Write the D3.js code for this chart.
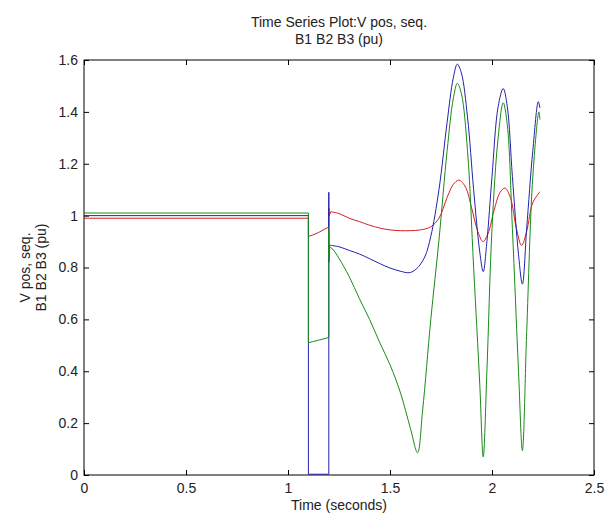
<!DOCTYPE html>
<html>
<head>
<meta charset="utf-8">
<script src="https://cdn.jsdelivr.net/npm/d3@7"></script>
<style>
  body { margin: 0; background: #fff; }
  svg text { font-family: "Liberation Sans", Arial, sans-serif; fill: #222; }
</style>
</head>
<body>
<svg id="chart" width="610" height="520"></svg>
<script>
// tick values / labels
const xTicks = [0, 0.5, 1, 1.5, 2, 2.5];
const xTickLabels = ["0", "0.5", "1", "1.5", "2", "2.5"];
const yTicks = [0, 0.2, 0.4, 0.6, 0.8, 1, 1.2, 1.4, 1.6];
const yTickLabels = ["0", "0.2", "0.4", "0.6", "0.8", "1", "1.2", "1.4", "1.6"];

// step part of each trace (pre-fault, fault, clearing) - straight segments
const redStep = [[0, 0.99], [1.1, 0.99], [1.1, 0.92], [1.12, 0.925], [1.15, 0.935], [1.18, 0.948], [1.2, 0.956], [1.2, 1.03], [1.202, 1.0], [1.21, 1.015]];
const blueStep = [[0, 1.0], [1.1, 1.0], [1.1, 0.87], [1.1, 0.003], [1.2, 0.003], [1.2, 1.09], [1.2, 0.82], [1.202, 0.886]];
const greenStep = [[0, 1.01], [1.1, 1.01], [1.1, 0.51], [1.12, 0.514], [1.15, 0.52], [1.2, 0.53], [1.2, 0.95], [1.2, 0.84], [1.202, 0.88]];

// post-fault swing - smooth
const redPost = [[1.21, 1.015], [1.25, 1.008], [1.3, 0.99], [1.35, 0.977], [1.4, 0.963], [1.45, 0.952], [1.5, 0.945], [1.55, 0.942], [1.6, 0.942],
  [1.65, 0.945], [1.7, 0.957], [1.74, 0.99], [1.78, 1.07], [1.81, 1.12], [1.838, 1.137], [1.87, 1.11], [1.9, 1.03], [1.93, 0.94], [1.956, 0.9],
  [1.98, 0.93], [2.01, 1.02], [2.04, 1.09], [2.064, 1.106], [2.09, 1.07], [2.12, 0.95], [2.145, 0.885], [2.17, 0.94], [2.2, 1.05], [2.235, 1.092]];
const bluePost = [[1.202, 0.886], [1.25, 0.88], [1.3, 0.866], [1.35, 0.852], [1.4, 0.834], [1.45, 0.815], [1.5, 0.798], [1.55, 0.786], [1.595, 0.78],
  [1.63, 0.795], [1.67, 0.84], [1.7, 0.92], [1.74, 1.1], [1.78, 1.36], [1.81, 1.53], [1.83, 1.584], [1.85, 1.55], [1.88, 1.38], [1.91, 1.1],
  [1.94, 0.86], [1.957, 0.784], [1.975, 0.9], [2.0, 1.15], [2.03, 1.42], [2.055, 1.49], [2.075, 1.42], [2.1, 1.15], [2.13, 0.85], [2.149, 0.736],
  [2.17, 0.95], [2.2, 1.25], [2.227, 1.439], [2.235, 1.415]];
const greenPost = [[1.202, 0.88], [1.22, 0.87], [1.25, 0.835], [1.3, 0.765], [1.35, 0.68], [1.4, 0.6], [1.45, 0.51], [1.5, 0.425], [1.55, 0.32],
  [1.6, 0.18], [1.635, 0.086], [1.66, 0.25], [1.7, 0.6], [1.74, 0.906], [1.78, 1.25], [1.81, 1.45], [1.83, 1.51], [1.85, 1.47], [1.88, 1.25],
  [1.91, 0.8], [1.94, 0.35], [1.957, 0.07], [1.975, 0.4], [2.0, 0.95], [2.03, 1.3], [2.055, 1.435], [2.075, 1.35], [2.1, 0.95], [2.13, 0.4],
  [2.149, 0.094], [2.17, 0.55], [2.2, 1.15], [2.23, 1.4], [2.235, 1.37]];

const traces = [
  {step: redStep, post: redPost, color: "#d42020"},
  {step: blueStep, post: bluePost, color: "#2222aa"},
  {step: greenStep, post: greenPost, color: "#1a8a1a"}
];

const margin = {left: 84, right: 16, top: 60, bottom: 45};
const svg = d3.select("#chart");
const width = 610 - margin.left - margin.right;
const height = 520 - margin.top - margin.bottom;

let x = d3.scaleLinear().domain([0, 2.5]).range([0, width]);
let y = d3.scaleLinear().domain([0, 1.6]).range([height, 0]);

let g = svg.append("g").attr("transform", `translate(${margin.left},${margin.top})`);

// axes, ticks pointing inwards like matlab
let fmt = (ticks, labels) => (d) => labels[ticks.indexOf(d)];

g.append("g")
  .attr("transform", `translate(0,${height})`)
  .call(d3.axisBottom(x).tickValues(xTicks).tickFormat(fmt(xTicks, xTickLabels)).tickSize(-5).tickPadding(8))
  .call(a => a.select(".domain").remove());
g.append("g")
  .call(d3.axisTop(x).tickValues(xTicks).tickFormat("").tickSize(-5))
  .call(a => a.select(".domain").remove());
g.append("g")
  .call(d3.axisLeft(y).tickValues(yTicks).tickFormat(fmt(yTicks, yTickLabels)).tickSize(-5).tickPadding(6))
  .call(a => a.select(".domain").remove());
g.append("g")
  .attr("transform", `translate(${width},0)`)
  .call(d3.axisRight(y).tickValues(yTicks).tickFormat("").tickSize(-5))
  .call(a => a.select(".domain").remove());

g.selectAll(".tick text").attr("font-size", 14).style("font-family", '"Liberation Sans", Arial, sans-serif');
g.selectAll(".tick line").attr("stroke", "#000");

g.append("rect")
  .attr("width", width)
  .attr("height", height)
  .attr("fill", "none")
  .attr("stroke", "#000");

// traces
let stepLine = d3.line().x(d => x(d[0])).y(d => y(d[1]));
let smoothLine = d3.line().x(d => x(d[0])).y(d => y(d[1])).curve(d3.curveCatmullRom.alpha(0.5));

traces.forEach(tr => {
  g.append("path").datum(tr.step)
    .attr("d", stepLine)
    .attr("fill", "none").attr("stroke", tr.color).attr("stroke-width", 1);
  g.append("path").datum(tr.post)
    .attr("d", smoothLine)
    .attr("fill", "none").attr("stroke", tr.color).attr("stroke-width", 1);
});

// title and labels
let title = svg.append("text")
  .attr("x", margin.left + width / 2)
  .attr("text-anchor", "middle")
  .attr("font-size", 14);
title.append("tspan").attr("x", margin.left + width / 2).attr("y", 27).text("Time Series Plot:V pos, seq.");
title.append("tspan").attr("x", margin.left + width / 2).attr("y", 44).text("B1 B2 B3 (pu)");

svg.append("text")
  .attr("x", margin.left + width / 2)
  .attr("y", 510)
  .attr("text-anchor", "middle")
  .attr("font-size", 14)
  .text("Time (seconds)");

let ylab = svg.append("text")
  .attr("transform", `translate(0,${margin.top + height / 2}) rotate(-90)`)
  .attr("text-anchor", "middle")
  .attr("font-size", 14);
ylab.append("tspan").attr("x", 0).attr("y", 30).text("V pos, seq.");
ylab.append("tspan").attr("x", 0).attr("y", 46).text("B1 B2 B3 (pu)");
</script>
</body>
</html>
